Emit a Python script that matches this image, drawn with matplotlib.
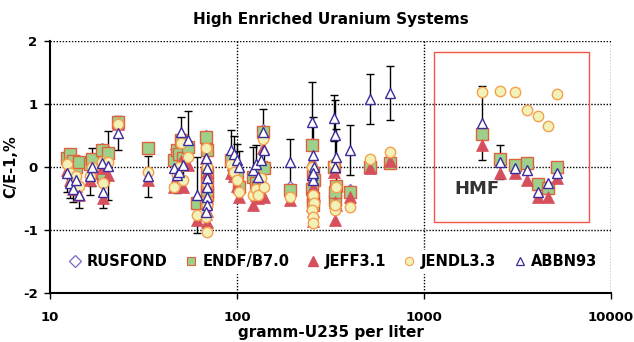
import numpy as np
import matplotlib
matplotlib.use("Agg")
import matplotlib.pyplot as plt
from matplotlib.patches import Rectangle

nan = np.nan
# concentration, g U235 per liter
conc = [12.3, 12.8, 13.2, 13.7, 14.3, 16.3, 16.8, 19.0, 19.3, 20.5, 23.0,
        33.4,
        46.0, 47.5, 49.0, 50.0, 51.5, 54.5,
        61.0,
        68.5, 69.0, 69.5, 68.8, 69.2, 69.0, 68.5,
        93.0, 96.0, 100.0, 102.0,
        122.0, 126.0, 130.0, 134.0, 138.0, 140.0,
        192.0,
        252.0, 255.0, 258.0, 253.0, 256.0, 254.0,
        330.0, 336.0, 340.0, 333.0,
        402.0, 514.0, 658.0,
        2037.0, 2548.0, 3068.0, 3556.0, 4074.0, 4603.0, 5140.0]
rusfond = [0.18, 0.20, 0.12, 0.03, 0.10, 0.08, nan, 0.28, -0.14, 0.24, 0.70,
           0.30,
           0.13, 0.28, nan, 0.45, nan, 0.33,
           -0.55,
           0.50, nan, nan, nan, nan, nan, nan,
           0.13, nan, nan, nan,
           nan, nan, nan, nan, 0.58, nan,
           -0.32,
           0.37, nan, nan, nan, nan, nan,
           nan, nan, nan, nan,
           -0.37, 0.02, 0.08,
           0.55, 0.10, 0.00, 0.04, -0.30, -0.30, -0.05]
endf = [0.15, 0.20, 0.10, 0.00, 0.08, 0.05, 0.12, 0.27, -0.16, 0.22, 0.72,
        0.30,
        0.11, 0.27, 0.20, 0.43, 0.15, 0.32,
        -0.57,
        0.48, 0.27, -0.08, -0.25, -0.40, -0.45, -0.55,
        0.11, -0.05, -0.13, -0.32,
        -0.16, -0.25, -0.32, 0.00, 0.56, -0.02,
        -0.37,
        0.35, -0.10, -0.20, -0.35, -0.50, -0.60,
        0.00, -0.52, -0.30, -0.40,
        -0.39, 0.00, 0.06,
        0.52, 0.13, 0.03, 0.06, -0.27, -0.33, 0.00]
jeff = [-0.05, -0.20, -0.35, -0.30, -0.45, -0.20, -0.10, -0.02, -0.50, -0.13, 0.68,
        -0.20,
        -0.32, -0.15, -0.10, 0.10, -0.32, 0.03,
        -0.84,
        0.15, -0.10, -0.30, -0.50, -0.87, -0.70, -0.75,
        -0.10, -0.15, -0.30, -0.48,
        -0.60, -0.45, -0.50, -0.20, 0.30, -0.48,
        -0.52,
        0.10, -0.32, -0.45, -0.60, -0.70, -0.85,
        -0.08, -0.84, -0.60, -0.55,
        -0.48, -0.02, 0.10,
        0.35, -0.10, -0.10, -0.21, -0.48, -0.48, -0.17]
jendl = [0.05, -0.10, -0.20, -0.15, -0.30, -0.15, 0.00, 0.08, -0.25, 0.08, 0.68,
         -0.08,
         -0.32, -0.13, 0.00, 0.38, -0.20, 0.16,
         -0.76,
         0.30, 0.00, -0.25, -0.52, -1.03, -0.60, -0.80,
         0.05, -0.08, -0.20, -0.40,
         -0.44, -0.35, -0.44, -0.17, 0.45, -0.32,
         -0.48,
         0.00, -0.44, -0.57, -0.68, -0.79, -0.89,
         0.05, -0.68, -0.32, -0.60,
         -0.63, 0.13, 0.24,
         1.19, 1.21, 1.19, 0.90, 0.81, 0.65, 1.16]
abbn = [-0.10, -0.25, -0.35, -0.20, -0.45, -0.15, 0.00, 0.06, -0.40, 0.02, 0.54,
        -0.15,
        -0.02, -0.13, -0.08, 0.56, 0.03, 0.43,
        -0.44,
        0.14, -0.02, -0.17, -0.32, -0.48, -0.60, -0.71,
        0.27, 0.20, 0.11, 0.00,
        -0.05, 0.05, -0.16, 0.11, 0.56, 0.27,
        0.08,
        0.71, 0.19, 0.00, -0.13, -0.20, -0.10,
        0.78, 0.51, 0.16, 0.00,
        0.27, 1.08, 1.17,
        0.70, 0.08, -0.02, -0.05, -0.39, -0.25, -0.10]
abbn_err = [0.30, 0.25, 0.20, 0.25, 0.20, 0.30, 0.30, 0.25, 0.25, 0.55, 0.27,
            0.32,
            0.30, 0.28, 0.0, 0.24, 0.40, 0.46,
            0.60,
            0.0, 0.0, 0.0, 0.0, 0.0, 0.0, 0.0,
            0.32, 0.30, 0.25, 0.25,
            0.37, 0.30, 0.0, 0.0, 0.36, 0.30,
            0.37,
            0.64, 0.60, 0.0, 0.0, 0.0, 0.0,
            0.36, 0.55, 0.45, 0.0,
            0.40, 0.39, 0.43,
            0.59, 0.27, 0.0, 0.0, 0.0, 0.0, 0.0]

labels = ["RUSFOND", "ENDF/B7.0", "JEFF3.1", "JENDL3.3", "ABBN93"]

conc = np.array(conc)
abbn_a = np.array(abbn)
err_a = np.array(abbn_err)

fig = plt.figure(figsize=(6.34, 3.42), dpi=100)
ax = fig.add_axes([0.0789, 0.1433, 0.8848, 0.7368])
ax.set_xscale("log")
ax.set_xlim(10, 10000)
ax.set_ylim(-2, 2)

# grid
for yv in [-1, 0, 1, 2]:
    ax.axhline(yv, color="black", lw=1.0, ls=(0, (1, 1.2)), zorder=1)
for xv in [100, 1000, 10000]:
    ax.axvline(xv, color="black", lw=1.0, ls=(0, (1, 1.2)), zorder=1)

# error bars on ABBN93
m = err_a > 0
ax.errorbar(conc[m], abbn_a[m], yerr=err_a[m], fmt="none", ecolor="black",
            elinewidth=1.0, capsize=3, capthick=1.0, zorder=2)

rus_c = "#7a68c8"
abbn_c = "#3c2c9c"
ax.plot(conc, rusfond, ls="none", marker="D", ms=6, mfc="white", mec=rus_c,
        mew=0.9, zorder=3, label=labels[0])
ax.plot(conc, endf, ls="none", marker="s", ms=8, mfc="#9dd08a", mec="#e0603a",
        mew=1.0, zorder=4, label=labels[1])
ax.plot(conc, jeff, ls="none", marker="^", ms=8.5, mfc="#d64f5c", mec="#d64f5c",
        mew=0.5, zorder=5, label=labels[2])
ax.plot(conc, jendl, ls="none", marker="o", ms=7.5, mfc="#f2f2b8", mec="#f5a050",
        mew=1.0, zorder=6, label=labels[3])
ax.plot(conc, abbn, ls="none", marker="^", ms=7.5, mfc="white", mec=abbn_c,
        mew=1.0, zorder=7, label=labels[4])

# HMF box
ax.add_patch(Rectangle((1130, -0.873), 7620 - 1130, 1.825 + 0.873, fill=False,
                       edgecolor="#f05545", lw=1.0, zorder=8))
ax.text(1450, -0.35, "HMF", fontsize=13, fontweight="bold", color="#333333",
        va="center", ha="left", zorder=9)

# spines
for s in ["top", "right"]:
    ax.spines[s].set_visible(False)
for s in ["left", "bottom"]:
    ax.spines[s].set_linewidth(1.5)
    ax.spines[s].set_zorder(12)

ax.set_yticks([-2, -1, 0, 1, 2])
ax.set_yticklabels(["-2", "-1", "0", "1", "2"])
ax.set_xticks([10, 100, 1000, 10000])
ax.set_xticklabels(["10", "100", "1000", "10000"])
ax.xaxis.set_minor_locator(matplotlib.ticker.NullLocator())
ax.tick_params(axis="both", labelsize=9.5, length=4, width=1.0, direction="out")
ax.tick_params(axis="y", pad=5)
ax.tick_params(axis="x", pad=9)
for lab in ax.get_xticklabels() + ax.get_yticklabels():
    lab.set_fontweight("bold")

ax.set_title("High Enriched Uranium Systems", fontsize=11, fontweight="bold",
             pad=12)
ax.set_ylabel("C/E-1,%", fontsize=10.5, fontweight="bold", labelpad=3)
ax.set_xlabel("gramm-U235 per liter", fontsize=11, fontweight="bold", labelpad=1)

# legend
handles = [
    plt.Line2D([], [], ls="none", marker="D", ms=6, mfc="white", mec=rus_c, mew=0.9),
    plt.Line2D([], [], ls="none", marker="s", ms=6, mfc="#9dd08a", mec="#e0603a", mew=0.8),
    plt.Line2D([], [], ls="none", marker="^", ms=7, mfc="#d64f5c", mec="#d64f5c"),
    plt.Line2D([], [], ls="none", marker="o", ms=6, mfc="#f2f2b8", mec="#f5a050", mew=0.8),
    plt.Line2D([], [], ls="none", marker="^", ms=5.5, mfc="white", mec=abbn_c, mew=0.9),
]
leg = ax.legend(handles, labels, loc="center", bbox_to_anchor=(0.505, 0.125),
                ncol=5, frameon=True, fancybox=False, edgecolor="white",
                facecolor="white", framealpha=1.0, handlelength=0.8,
                handletextpad=0.4, columnspacing=1.2, borderpad=0.3,
                prop={"weight": "bold", "size": 10.5})
leg.set_zorder(10)

fig.savefig("out.png", dpi=100)
